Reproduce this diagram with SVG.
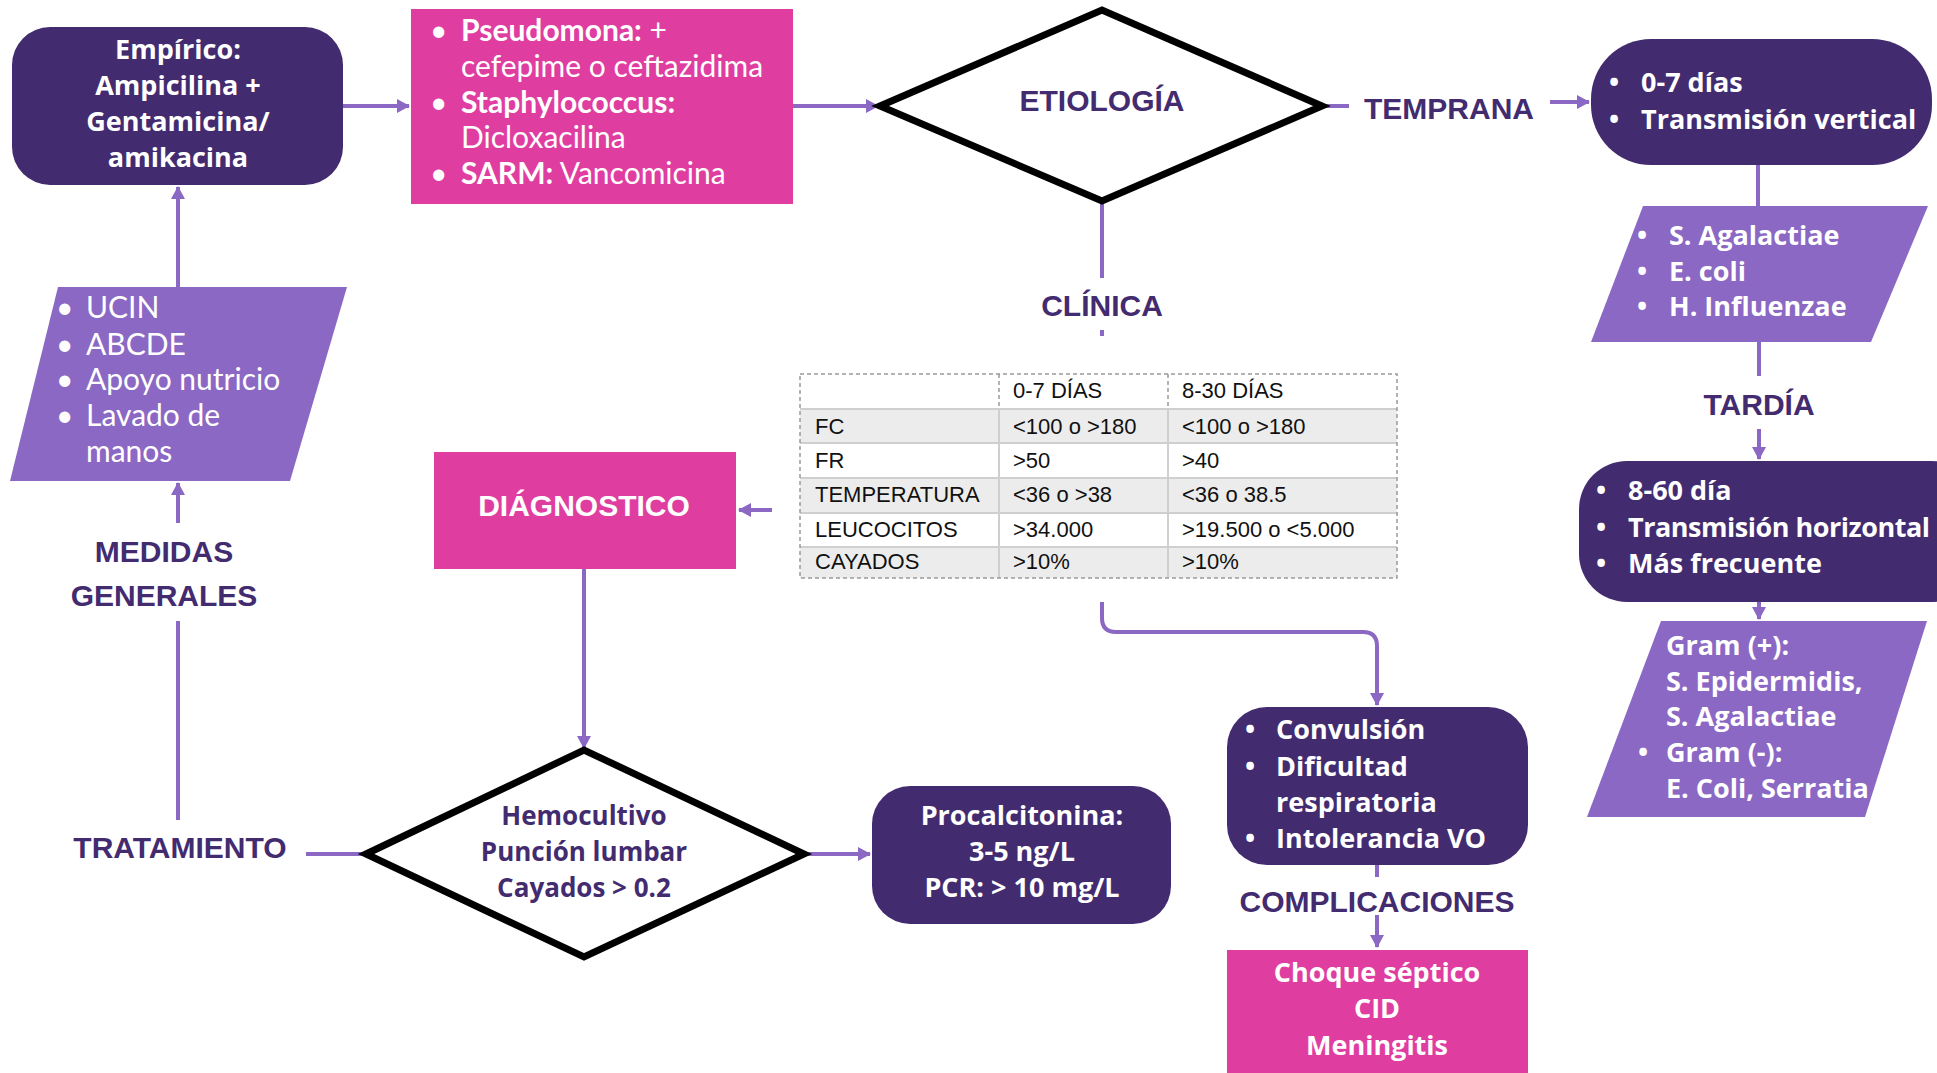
<svg xmlns="http://www.w3.org/2000/svg" width="1937" height="1073" viewBox="0 0 1937 1073">
<style>
.dark{fill:#432b70}
.pink{fill:#e03da1}
.mid{fill:#8b68c4}
.dia{fill:#fff;stroke:#000;stroke-width:7;stroke-linejoin:miter}
.wb{font-family:"Open Sans","Noto Sans",sans-serif;font-weight:700;font-size:27px;fill:#fff}
.wbc{font-family:"Open Sans","Noto Sans",sans-serif;font-weight:700;font-size:27px;fill:#fff;text-anchor:middle}
.pb{font-family:"Open Sans","Noto Sans",sans-serif;font-weight:700;font-size:26px;fill:#432b70;text-anchor:middle}
.thin{font-family:Lato,"Open Sans",sans-serif;font-weight:400;font-size:30px;fill:#fff}
.thinb{font-family:Lato,"Open Sans",sans-serif;font-weight:700;font-size:30px;fill:#fff}
.lbl{font-family:"Liberation Sans",Arial,sans-serif;font-weight:700;font-size:30px;fill:#432b70;text-anchor:middle}
.tb{font-family:"Liberation Sans",Arial,sans-serif;font-size:22px;fill:#111}
.con{fill:none;stroke:#8b68c4;stroke-width:4}
</style>
<defs>
<marker id="ah" markerWidth="14" markerHeight="14" refX="12" refY="7" orient="auto" markerUnits="userSpaceOnUse">
<path d="M0,0 L13,7 L0,14 Z" fill="#8b68c4"/>
</marker>
</defs>

<g id="connectors">
<line class="con" x1="343" y1="106" x2="409" y2="106" marker-end="url(#ah)"/>
<line class="con" x1="793" y1="106" x2="878" y2="106" marker-end="url(#ah)"/>
<line class="con" x1="1322" y1="106" x2="1349" y2="106"/>
<line class="con" x1="1550" y1="102" x2="1589" y2="102" marker-end="url(#ah)"/>
<line class="con" x1="1758" y1="164" x2="1758" y2="206"/>
<line class="con" x1="1759" y1="342" x2="1759" y2="376"/>
<line class="con" x1="1759" y1="429" x2="1759" y2="459" marker-end="url(#ah)"/>
<line class="con" x1="1759" y1="602" x2="1759" y2="619" marker-end="url(#ah)"/>
<line class="con" x1="1102" y1="201" x2="1102" y2="278"/>
<line class="con" x1="1102" y1="330" x2="1102" y2="336"/>
<path class="con" d="M1102,602 V618 Q1102,632 1116,632 H1363 Q1377,632 1377,646 V705" marker-end="url(#ah)"/>
<line class="con" x1="772" y1="510" x2="739" y2="510" marker-end="url(#ah)"/>
<line class="con" x1="584" y1="569" x2="584" y2="748" marker-end="url(#ah)"/>
<line class="con" x1="804" y1="854" x2="870" y2="854" marker-end="url(#ah)"/>
<line class="con" x1="306" y1="854" x2="366" y2="854"/>
<line class="con" x1="178" y1="820" x2="178" y2="621"/>
<line class="con" x1="178" y1="523" x2="178" y2="483" marker-end="url(#ah)"/>
<line class="con" x1="178" y1="287" x2="178" y2="187" marker-end="url(#ah)"/>
<line class="con" x1="1377" y1="865" x2="1377" y2="877"/>
<line class="con" x1="1377" y1="915" x2="1377" y2="947" marker-end="url(#ah)"/>
</g>

<g id="empirico">
<rect class="dark" x="12" y="27" width="331" height="158" rx="38"/>
<text class="wbc" x="178" y="59" font-size="28">Empírico:</text>
<text class="wbc" x="178" y="95">Ampicilina +</text>
<text class="wbc" x="178" y="131">Gentamicina/</text>
<text class="wbc" x="178" y="167">amikacina</text>
</g>

<g id="antibioticos">
<rect class="pink" x="411" y="9" width="382" height="195"/>
<text class="thin" x="430" y="41">•</text>
<text class="thin" x="461" y="41"><tspan class="thinb">Pseudomona:</tspan> +</text>
<text class="thin" x="461" y="77">cefepime o ceftazidima</text>
<text class="thin" x="430" y="113">•</text>
<text class="thinb" x="461" y="113">Staphylococcus:</text>
<text class="thin" x="461" y="148">Dicloxacilina</text>
<text class="thin" x="430" y="184">•</text>
<text class="thin" x="461" y="184"><tspan class="thinb">SARM:</tspan> Vancomicina</text>
</g>

<g id="etiologia">
<polygon class="dia" points="880,106 1102,10 1322,106 1102,201"/>
<text class="lbl" x="1102" y="111" font-size="27">ETIOLOGÍA</text>
</g>

<g id="temprana">
<text class="lbl" x="1449" y="119">TEMPRANA</text>
</g>

<g id="temprana-box">
<rect class="dark" x="1591" y="39" width="341" height="126" rx="60"/>
<text class="wb" x="1609" y="92">•</text>
<text class="wb" x="1641" y="92">0-7 días</text>
<text class="wb" x="1609" y="129">•</text>
<text class="wb" x="1641" y="129">Transmisión vertical</text>
</g>

<g id="temprana-agentes">
<polygon class="mid" points="1643,206 1928,206 1871,342 1591,342"/>
<text class="wb" x="1637" y="245">•</text>
<text class="wb" x="1669" y="245">S. Agalactiae</text>
<text class="wb" x="1637" y="281">•</text>
<text class="wb" x="1669" y="281">E. coli</text>
<text class="wb" x="1637" y="316">•</text>
<text class="wb" x="1669" y="316">H. Influenzae</text>
</g>

<g id="tardia">
<text class="lbl" x="1759" y="415">TARDÍA</text>
</g>

<g id="tardia-box">
<rect class="dark" x="1579" y="461" width="400" height="141" rx="48"/>
<text class="wb" x="1596" y="500">•</text>
<text class="wb" x="1628" y="500">8-60 día</text>
<text class="wb" x="1596" y="537">•</text>
<text class="wb" x="1628" y="537" textLength="302" lengthAdjust="spacing">Transmisión horizontal</text>
<text class="wb" x="1596" y="573">•</text>
<text class="wb" x="1628" y="573">Más frecuente</text>
</g>

<g id="tardia-agentes">
<polygon class="mid" points="1661,621 1927,621 1865,817 1587,817"/>
<text class="wb" x="1642" y="655">•</text>
<text class="wb" x="1666" y="655">Gram (+):</text>
<text class="wb" x="1666" y="691">S. Epidermidis,</text>
<text class="wb" x="1666" y="726">S. Agalactiae</text>
<text class="wb" x="1638" y="762">•</text>
<text class="wb" x="1666" y="762">Gram (-):</text>
<text class="wb" x="1666" y="798">E. Coli, Serratia</text>
</g>

<g id="clinica">
<text class="lbl" x="1102" y="316">CLÍNICA</text>
</g>

<g id="tabla">
<rect x="800" y="374" width="597" height="35" fill="#fff"/>
<rect x="800" y="409" width="597" height="34" fill="#ececec"/>
<rect x="800" y="443" width="597" height="35" fill="#fff"/>
<rect x="800" y="478" width="597" height="35" fill="#ececec"/>
<rect x="800" y="513" width="597" height="34" fill="#fff"/>
<rect x="800" y="547" width="597" height="31" fill="#ececec"/>
<g stroke="#cfcfcf" stroke-width="2" fill="none">
<line x1="800" y1="409" x2="1397" y2="409"/>
<line x1="800" y1="443" x2="1397" y2="443"/>
<line x1="800" y1="478" x2="1397" y2="478"/>
<line x1="800" y1="513" x2="1397" y2="513"/>
<line x1="800" y1="547" x2="1397" y2="547"/>
<line x1="999" y1="409" x2="999" y2="578"/>
<line x1="1168" y1="409" x2="1168" y2="578"/>
</g>
<g stroke="#9a9a9a" stroke-width="1.5" fill="none" stroke-dasharray="4,3">
<rect x="800" y="374" width="597" height="204"/>
<line x1="999" y1="374" x2="999" y2="409"/>
<line x1="1168" y1="374" x2="1168" y2="409"/>
</g>
<text class="tb" x="1013" y="398">0-7 DÍAS</text>
<text class="tb" x="1182" y="398">8-30 DÍAS</text>
<text class="tb" x="815" y="434">FC</text>
<text class="tb" x="1013" y="434">&lt;100 o &gt;180</text>
<text class="tb" x="1182" y="434">&lt;100 o &gt;180</text>
<text class="tb" x="815" y="468">FR</text>
<text class="tb" x="1013" y="468">&gt;50</text>
<text class="tb" x="1182" y="468">&gt;40</text>
<text class="tb" x="815" y="502">TEMPERATURA</text>
<text class="tb" x="1013" y="502">&lt;36 o &gt;38</text>
<text class="tb" x="1182" y="502">&lt;36 o 38.5</text>
<text class="tb" x="815" y="537">LEUCOCITOS</text>
<text class="tb" x="1013" y="537">&gt;34.000</text>
<text class="tb" x="1182" y="537">&gt;19.500 o &lt;5.000</text>
<text class="tb" x="815" y="569">CAYADOS</text>
<text class="tb" x="1013" y="569">&gt;10%</text>
<text class="tb" x="1182" y="569">&gt;10%</text>
</g>

<g id="diagnostico">
<rect class="pink" x="434" y="452" width="302" height="117"/>
<text class="lbl" x="584" y="516" font-size="27" style="fill:#fff">DIÁGNOSTICO</text>
</g>

<g id="pruebas">
<polygon class="dia" points="366,854 584,750 804,854 584,957"/>
<text class="pb" x="584" y="825">Hemocultivo</text>
<text class="pb" x="584" y="861">Punción lumbar</text>
<text class="pb" x="584" y="897">Cayados &gt; 0.2</text>
</g>

<g id="procalcitonina">
<rect class="dark" x="872" y="786" width="299" height="138" rx="38"/>
<text class="wbc" x="1022" y="825">Procalcitonina:</text>
<text class="wbc" x="1022" y="861">3-5 ng/L</text>
<text class="wbc" x="1022" y="897">PCR: &gt; 10 mg/L</text>
</g>

<g id="tratamiento">
<text class="lbl" x="180" y="858">TRATAMIENTO</text>
</g>

<g id="medidas-generales">
<text class="lbl" x="164" y="562">MEDIDAS</text>
<text class="lbl" x="164" y="606">GENERALES</text>
</g>

<g id="medidas">
<polygon class="mid" points="58,287 347,287 290,481 10,481"/>
<text class="thin" x="56" y="318">•</text>
<text class="thin" x="86" y="318">UCIN</text>
<text class="thin" x="56" y="355">•</text>
<text class="thin" x="86" y="355">ABCDE</text>
<text class="thin" x="56" y="390">•</text>
<text class="thin" x="86" y="390">Apoyo nutricio</text>
<text class="thin" x="56" y="426">•</text>
<text class="thin" x="86" y="426">Lavado de</text>
<text class="thin" x="86" y="462">manos</text>
</g>

<g id="sintomas">
<rect class="dark" x="1227" y="707" width="301" height="158" rx="40"/>
<text class="wb" x="1245" y="739">•</text>
<text class="wb" x="1276" y="739">Convulsión</text>
<text class="wb" x="1245" y="776">•</text>
<text class="wb" x="1276" y="776">Dificultad</text>
<text class="wb" x="1276" y="812">respiratoria</text>
<text class="wb" x="1245" y="848">•</text>
<text class="wb" x="1276" y="848">Intolerancia VO</text>
</g>

<g id="complicaciones">
<text class="lbl" x="1377" y="912">COMPLICACIONES</text>
</g>

<g id="complicaciones-box">
<rect class="pink" x="1227" y="950" width="301" height="123"/>
<text class="wbc" x="1377" y="982">Choque séptico</text>
<text class="wbc" x="1377" y="1018">CID</text>
<text class="wbc" x="1377" y="1055">Meningitis</text>
</g>
</svg>
